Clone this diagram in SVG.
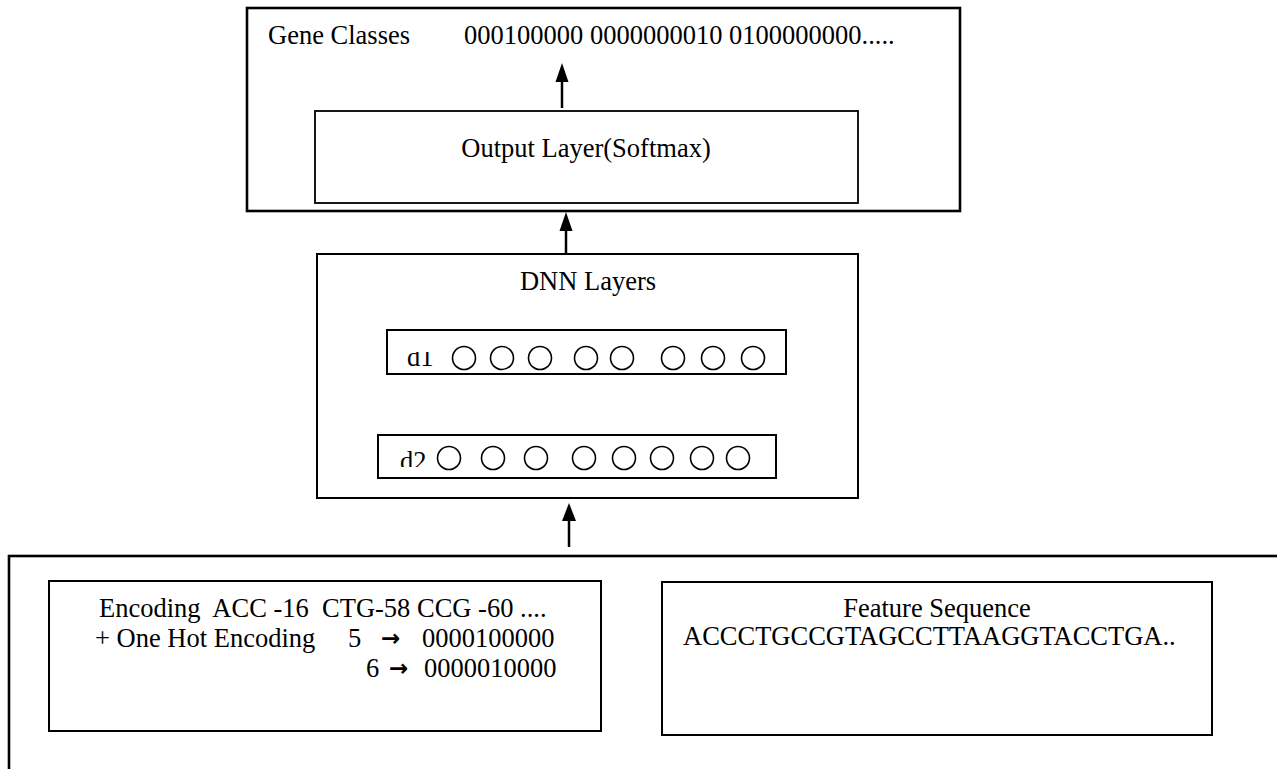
<svg xmlns="http://www.w3.org/2000/svg" width="1277" height="769" viewBox="0 0 1277 769">
<style>
text{font-family:"Liberation Serif","Times New Roman",serif;font-size:26.5px;fill:#000;white-space:pre}
.box{fill:#fff;stroke:#000;stroke-width:2}
.thick{stroke-width:2.6}
.thin{stroke-width:1.8}
.node{fill:none;stroke:#000;stroke-width:1.6}
.conn{stroke:#000;stroke-width:2.5;fill:none}
.head{fill:#000}
.mid{text-anchor:middle}
.arw{font-family:"DejaVu Sans",sans-serif;font-size:23px;font-weight:bold}
</style>
<defs>
<clipPath id="clipD1"><rect x="395" y="352" width="45" height="20"/></clipPath>
<clipPath id="clipD2"><rect x="385" y="440" width="45" height="27"/></clipPath>
</defs>
<rect width="1277" height="769" fill="#fff"/>

<g id="gene-classes">
<rect class="box thick" x="247" y="8" width="713" height="203"/>
<text x="268" y="44">Gene Classes</text>
<text x="464" y="44">000100000 0000000010 0100000000.....</text>
</g>

<g id="output-layer">
<rect class="box thin" x="315" y="111" width="543" height="92"/>
<text class="mid" x="586" y="157">Output Layer(Softmax)</text>
</g>

<g id="dnn-layers">
<rect class="box" x="317" y="254" width="541" height="244"/>
<text class="mid" x="588" y="290">DNN Layers</text>
</g>

<g id="d1">
<rect class="box" x="387" y="330" width="399" height="44"/>
<text x="407" y="366" clip-path="url(#clipD1)">d1</text>
<circle class="node" cx="464" cy="358" r="11.5"/>
<circle class="node" cx="502" cy="358" r="11.5"/>
<circle class="node" cx="540" cy="358" r="11.5"/>
<circle class="node" cx="586" cy="358" r="11.5"/>
<circle class="node" cx="622" cy="358" r="11.5"/>
<circle class="node" cx="673" cy="358" r="11.5"/>
<circle class="node" cx="713" cy="358" r="11.5"/>
<circle class="node" cx="753" cy="358" r="11.5"/>
</g>

<g id="d2">
<rect class="box" x="378" y="435" width="398" height="43"/>
<text x="400" y="470" clip-path="url(#clipD2)">d2</text>
<circle class="node" cx="449" cy="458" r="11.5"/>
<circle class="node" cx="493" cy="458" r="11.5"/>
<circle class="node" cx="536" cy="458" r="11.5"/>
<circle class="node" cx="584" cy="458" r="11.5"/>
<circle class="node" cx="624" cy="458" r="11.5"/>
<circle class="node" cx="662" cy="458" r="11.5"/>
<circle class="node" cx="702" cy="458" r="11.5"/>
<circle class="node" cx="738" cy="458" r="11.5"/>
</g>

<g id="input">
<rect class="box thick" x="9" y="556" width="1300" height="300"/>
</g>

<g id="encoding">
<rect class="box" x="49" y="581" width="552" height="150"/>
<text x="99" y="617" xml:space="preserve">Encoding  ACC -16  CTG-58 CCG -60 ....</text>
<text x="95" y="647">+ One Hot Encoding</text>
<text x="348" y="647">5</text>
<text class="arw" x="381" y="646">→</text>
<text x="422" y="647">0000100000</text>
<text x="366" y="677">6</text>
<text class="arw" x="389" y="676">→</text>
<text x="424" y="677">0000010000</text>
</g>

<g id="feature-sequence">
<rect class="box" x="662" y="582" width="550" height="153"/>
<text class="mid" x="937" y="617">Feature Sequence</text>
<text x="683" y="645">ACCCTGCCGTAGCCTTAAGGTACCTGA..</text>
</g>

<g id="connectors">
<line class="conn" x1="562" y1="108" x2="562" y2="80"/>
<polygon class="head" points="562,63 555.5,82 568.5,82"/>
<line class="conn" x1="566" y1="254" x2="566" y2="228"/>
<polygon class="head" points="566,212 559.5,231 572.5,231"/>
<line class="conn" x1="569" y1="547" x2="569" y2="520"/>
<polygon class="head" points="569,503 562,521 576,521"/>
</g>
</svg>
